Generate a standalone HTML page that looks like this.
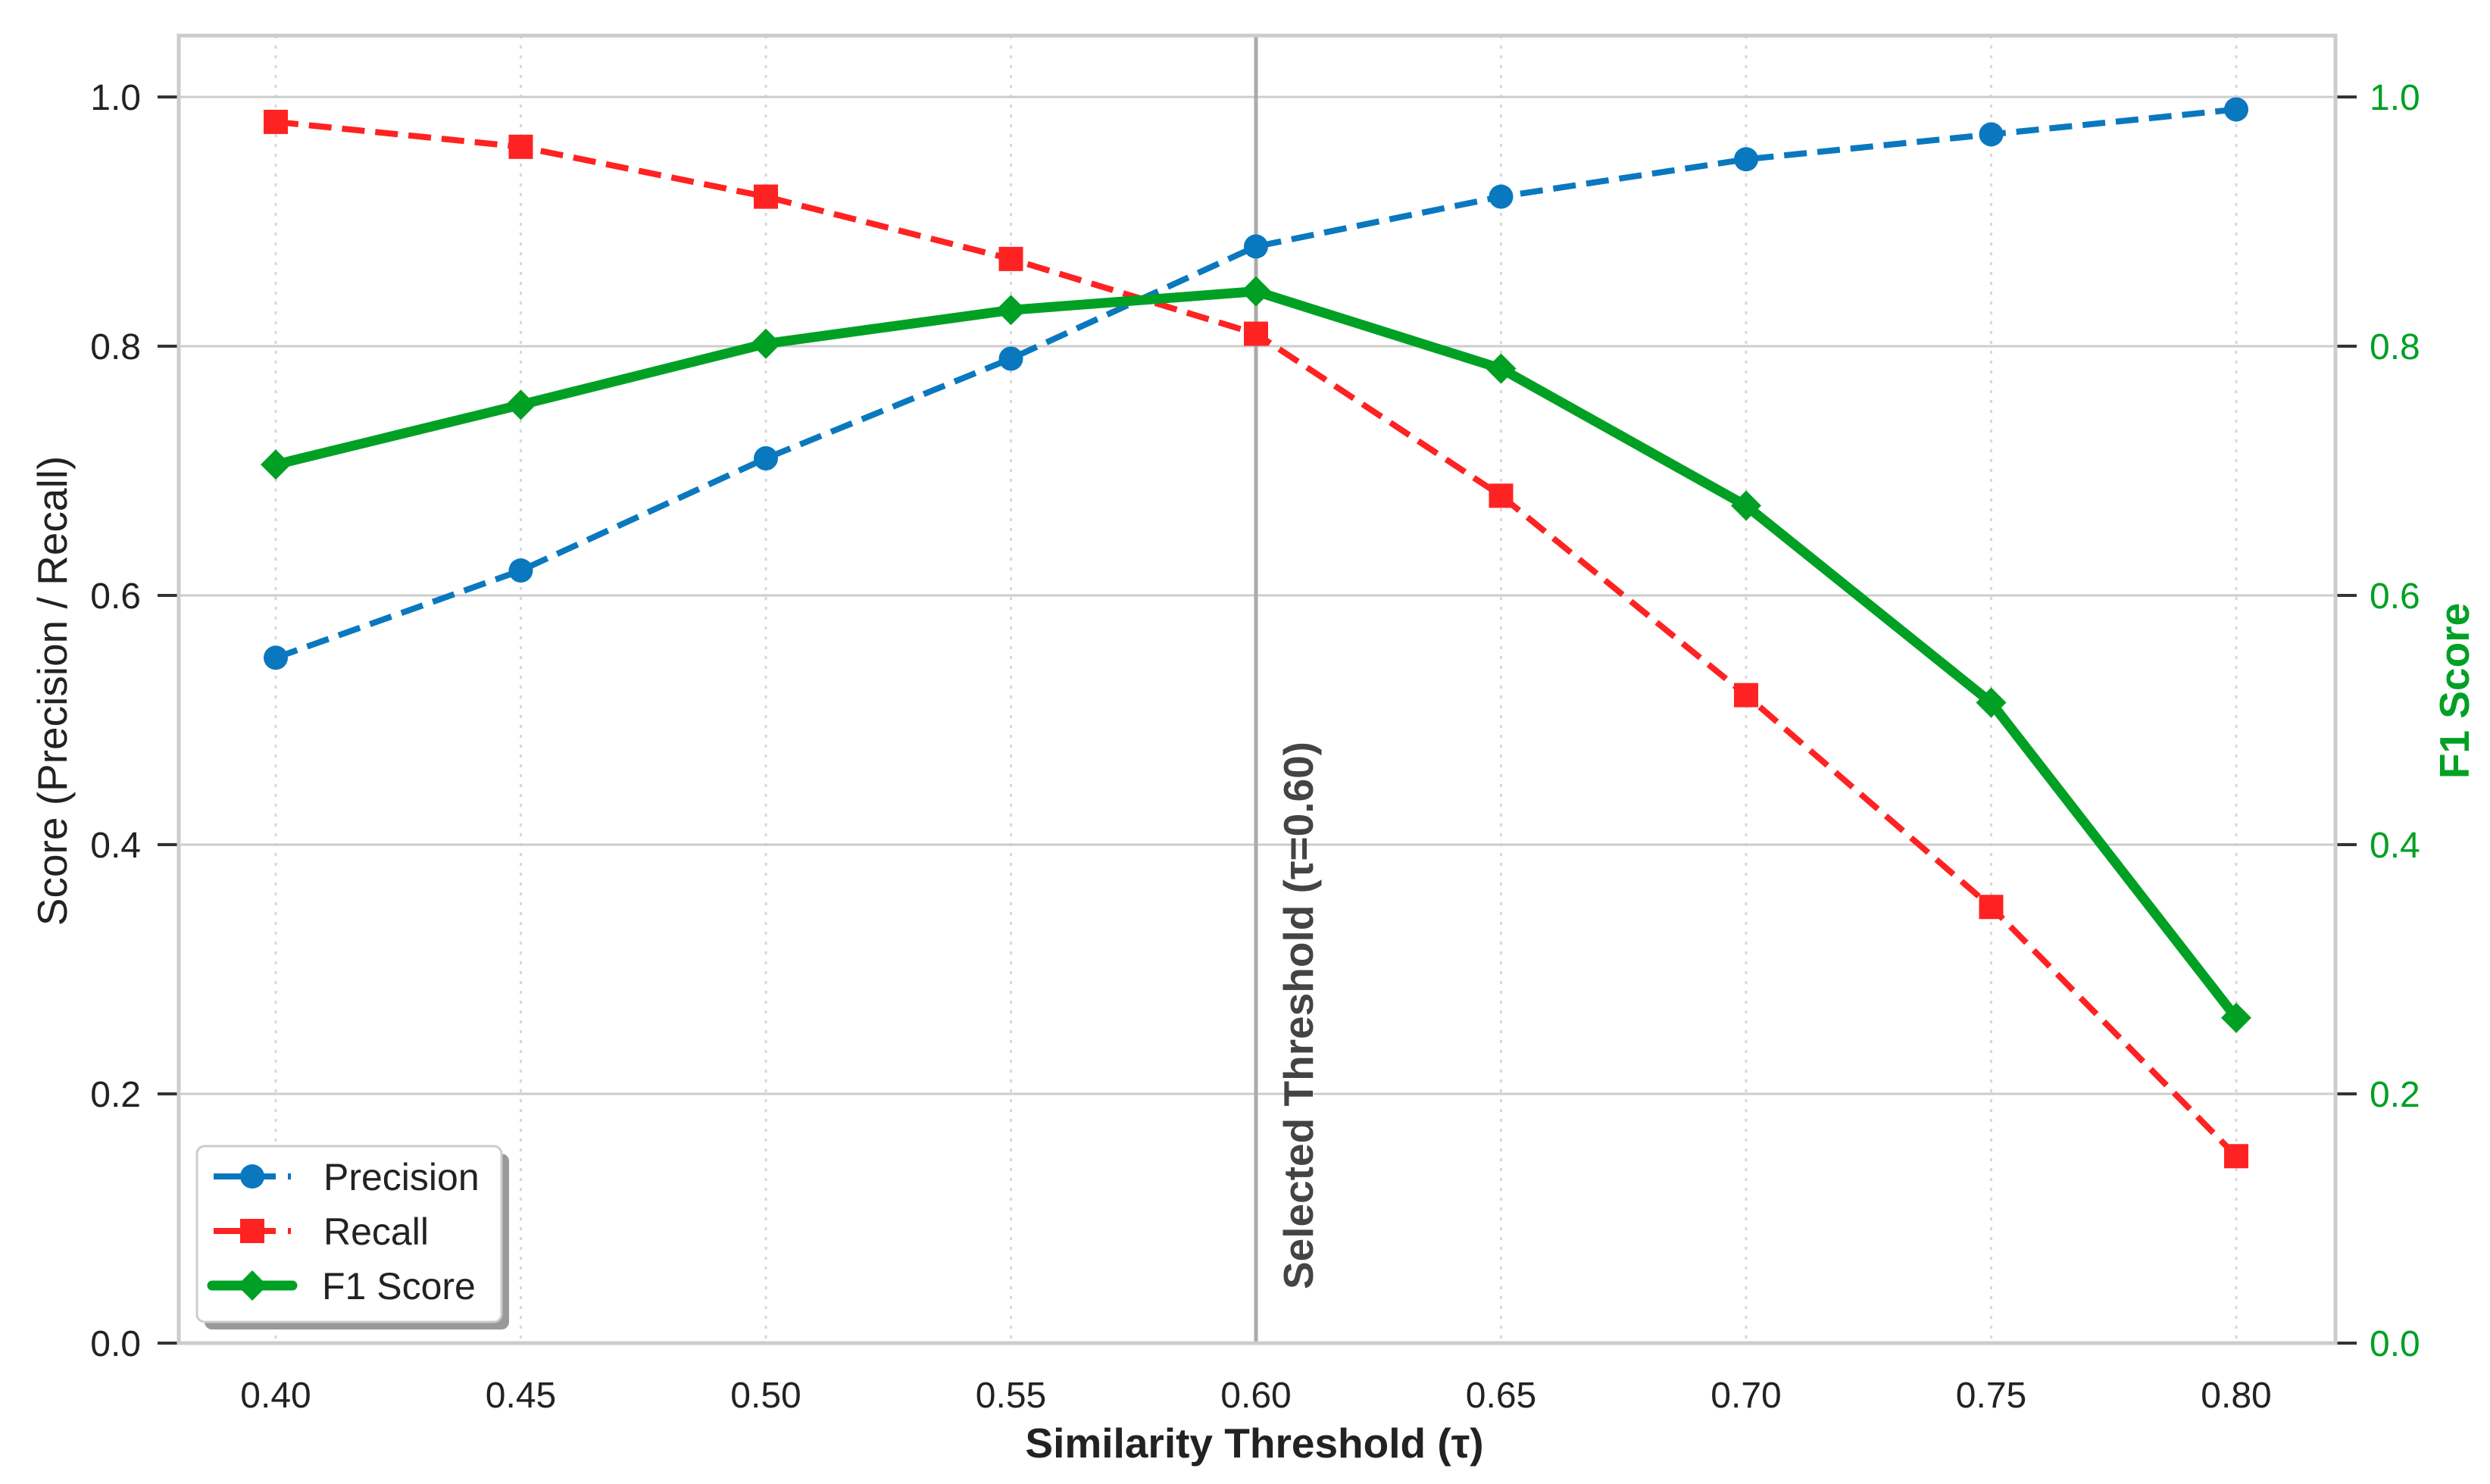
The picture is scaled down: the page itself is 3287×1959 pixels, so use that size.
<!DOCTYPE html>
<html><head><meta charset="utf-8"><style>
html,body{margin:0;padding:0;background:#fff;}
svg{display:block;font-family:"Liberation Sans",Arial,sans-serif;}
</style></head><body>
<svg id="chart" width="3287" height="1959" viewBox="0 0 3287 1959" xmlns="http://www.w3.org/2000/svg">
<g id="grid"></g>
<g id="marks"></g>
<g id="axes"></g>
<text x="1656" y="1924" text-anchor="middle" font-size="55" font-weight="bold" fill="#222">Similarity Threshold (τ)</text>
<text transform="translate(88,912) rotate(-90)" text-anchor="middle" font-size="55" fill="#222">Score (Precision / Recall)</text>
<text transform="translate(3259,912) rotate(-90)" text-anchor="middle" font-size="55" font-weight="bold" fill="#00a024">F1 Score</text>
<text transform="translate(1733,1702) rotate(-90)" text-anchor="start" font-size="55" font-weight="bold" fill="#444">Selected Threshold (τ=0.60)</text>
<g id="legend">
  <rect x="270" y="1523" width="402" height="232" rx="10" fill="#999"/>
  <rect x="260" y="1513" width="402" height="232" rx="10" fill="#fff" stroke="#ccc" stroke-width="3"/>
  <g>
    <line x1="282" y1="1553" x2="364" y2="1553" stroke="#0a78be" stroke-width="8"/>
    <line x1="380" y1="1553" x2="384" y2="1553" stroke="#0a78be" stroke-width="8"/>
    <circle cx="333" cy="1553" r="16" fill="#0a78be"/>
    <text x="427" y="1571" font-size="50" fill="#222">Precision</text>
  </g>
  <g>
    <line x1="282" y1="1625" x2="364" y2="1625" stroke="#ff2222" stroke-width="8"/>
    <line x1="380" y1="1625" x2="384" y2="1625" stroke="#ff2222" stroke-width="8"/>
    <rect x="317" y="1609" width="32" height="32" fill="#ff2222"/>
    <text x="427" y="1643" font-size="50" fill="#222">Recall</text>
  </g>
  <g>
    <line x1="280" y1="1697" x2="386" y2="1697" stroke="#00a024" stroke-width="13" stroke-linecap="round"/>
    <polygon points="333,1677 353,1697 333,1717 313,1697" fill="#00a024"/>
    <text x="425" y="1715" font-size="50" fill="#222">F1 Score</text>
  </g>
</g>
</svg>
<script>
const thresholds = [0.40,0.45,0.50,0.55,0.60,0.65,0.70,0.75,0.80];
const precision = [0.55,0.62,0.71,0.79,0.88,0.92,0.95,0.97,0.99];
const recall = [0.98,0.96,0.92,0.87,0.81,0.68,0.52,0.35,0.15];
const f1 = [0.705,0.753,0.802,0.829,0.844,0.782,0.672,0.514,0.261];
const xTicks = ["0.40","0.45","0.50","0.55","0.60","0.65","0.70","0.75","0.80"];
const yTicks = ["0.0","0.2","0.4","0.6","0.8","1.0"];
const selectedThreshold = 0.60;

const NS="http://www.w3.org/2000/svg";
const L=236,R=3083,T=47,B=1773;
const xs=v=>364+(v-0.40)/0.40*(2952-364);
const ys=v=>1773-v*(1773-128);
function mk(tag,attrs,parent){const e=document.createElementNS(NS,tag);for(const k in attrs)e.setAttribute(k,attrs[k]);parent.appendChild(e);return e;}
const grid=document.getElementById('grid'),marks=document.getElementById('marks'),axes=document.getElementById('axes');

xTicks.forEach(t=>{const x=xs(parseFloat(t));
  const g=mk('line',{x1:x,x2:x,y1:T,y2:B,stroke:'#d8d8d8','stroke-width':3,'stroke-dasharray':'4 9'},grid);
  
  
  const lb=mk('text',{x:x,y:1858,'text-anchor':'middle','font-size':48,fill:'#222'},axes);lb.textContent=t;
  
  
});
yTicks.forEach(t=>{const y=ys(parseFloat(t));
  const g=mk('line',{x1:L,x2:R,y1:y,y2:y,stroke:'#cccccc','stroke-width':3},grid);
  
  
  mk('line',{x1:208,x2:L,y1:y,y2:y,stroke:'#333','stroke-width':4},axes);
  mk('line',{x1:R,x2:R+28,y1:y,y2:y,stroke:'#333','stroke-width':4},axes);
  const a=mk('text',{x:186,y:y+17,'text-anchor':'end','font-size':48,fill:'#222'},axes);a.textContent=t;
  
  
  const b=mk('text',{x:3128,y:y+17,'text-anchor':'start','font-size':48,fill:'#00a024'},axes);b.textContent=t;
  
  
});
const frame=mk('rect',{x:L,y:T,width:R-L,height:B-T,fill:'none',stroke:'#cccccc','stroke-width':5},axes);


const sx=xs(selectedThreshold);
const vl=mk('line',{x1:sx,x2:sx,y1:T,y2:B,stroke:'#aaa','stroke-width':5},marks);



function series(vals,color,w,dash,name){
  const pts=thresholds.map((t,i)=>xs(t)+','+ys(vals[i])).join(' ');
  const p=mk('polyline',{points:pts,fill:'none',stroke:color,'stroke-width':w,'stroke-linejoin':'round'},marks);
  if(dash)p.setAttribute('stroke-dasharray',dash);
  
  
}
series(precision,'#0a78be',8,'30 14','precision');
series(recall,'#ff2222',8,'30 14','recall');
series(f1,'#00a024',13,null,'f1');
thresholds.forEach((t,i)=>{
  const x=xs(t);
  const c=mk('circle',{cx:x,cy:ys(precision[i]),r:16,fill:'#0a78be'},marks);
  
  
  const y=ys(recall[i]);
  const s=mk('rect',{x:x-16,y:y-16,width:32,height:32,fill:'#ff2222'},marks);
  
  
  const fy=ys(f1[i]);
  const d=mk('polygon',{points:`${x},${fy-20} ${x+20},${fy} ${x},${fy+20} ${x-20},${fy}`,fill:'#00a024'},marks);
  
  
});
</script>
</body></html>
